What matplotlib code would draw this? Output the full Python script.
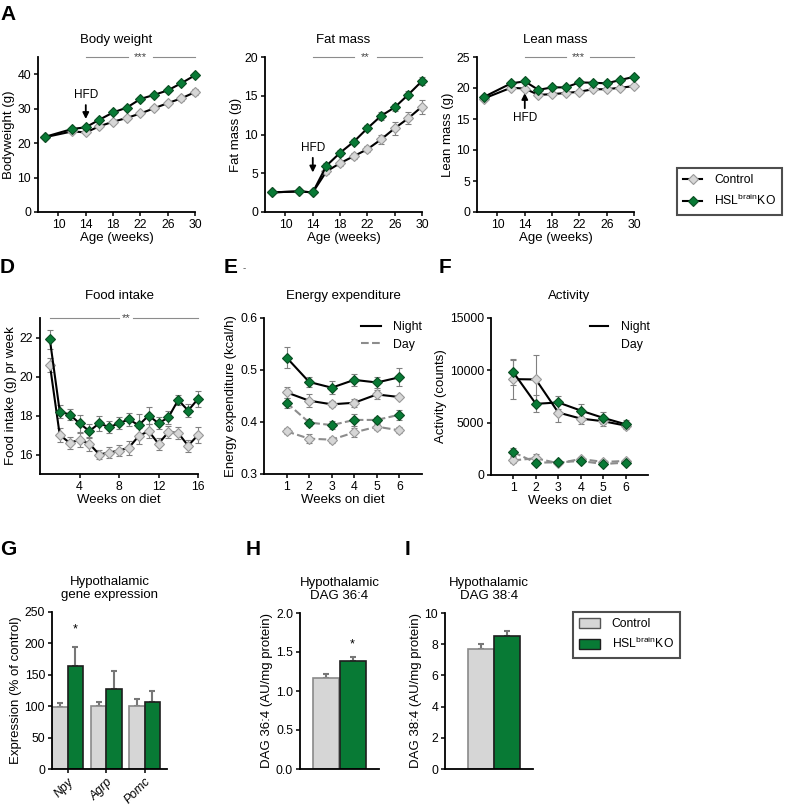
import matplotlib
matplotlib.use("Agg")
import matplotlib.pyplot as plt
from matplotlib.lines import Line2D
from matplotlib.patches import Patch
import numpy as np

plt.rcParams['font.family'] = ['Liberation Sans', 'DejaVu Sans']
plt.rcParams['font.size'] = 8.5
plt.rcParams['axes.linewidth'] = 1.3

W, H = 789, 806

# ---- data ----
age = [8, 12, 14, 16, 18, 20, 22, 24, 26, 28, 30]
bw_ctrl = [21.7, 23.4, 23.1, 24.9, 26.2, 27.3, 28.6, 30.1, 31.6, 33.0, 34.8]
bw_ko = [21.8, 24.1, 24.6, 26.8, 28.9, 30.3, 32.8, 34.0, 35.3, 37.4, 39.7]
bw_ctrl_err = [0.4, 0.4, 0.4, 0.4, 0.4, 0.5, 0.5, 0.6, 0.6, 0.7, 0.8]
bw_ko_err = [0.4, 0.4, 0.4, 0.4, 0.5, 0.5, 0.5, 0.5, 0.5, 0.5, 0.5]

fat_ctrl = [2.53, 2.66, 2.53, 5.24, 6.3, 7.2, 8.1, 9.36, 10.8, 12.1, 13.6]
fat_ko = [2.53, 2.66, 2.53, 5.97, 7.64, 9.06, 10.8, 12.4, 13.5, 15.15, 16.9]
fat_ctrl_err = [0.1, 0.1, 0.1, 0.3, 0.3, 0.4, 0.4, 0.6, 0.8, 0.8, 0.9]
fat_ko_err = [0.1, 0.1, 0.1, 0.3, 0.4, 0.3, 0.4, 0.5, 0.5, 0.5, 0.5]

lean_ctrl = [18.3, 20.05, 19.9, 18.9, 19.0, 19.2, 19.4, 19.8, 19.8, 20.05, 20.3]
lean_ko = [18.55, 20.75, 21.07, 19.7, 20.1, 20.1, 20.9, 20.85, 20.75, 21.3, 21.8]
lean_ctrl_err = [0.3, 0.3, 0.3, 0.3, 0.3, 0.3, 0.3, 0.3, 0.3, 0.3, 0.3]
lean_ko_err = [0.3, 0.3, 0.3, 0.3, 0.3, 0.3, 0.3, 0.3, 0.3, 0.3, 0.3]

weeks16 = list(range(1, 17))
food_ko = [21.9, 18.2, 18.05, 17.6, 17.2, 17.6, 17.4, 17.6, 17.8, 17.5, 18.0, 17.6, 17.9, 18.8, 18.25, 18.85]
food_ctrl = [20.6, 17.0, 16.6, 16.75, 16.55, 16.0, 16.1, 16.2, 16.35, 16.95, 17.2, 16.55, 17.15, 17.1, 16.45, 17.0]
food_ko_err = [0.5, 0.35, 0.3, 0.45, 0.35, 0.4, 0.3, 0.3, 0.35, 0.6, 0.45, 0.3, 0.35, 0.25, 0.35, 0.4]
food_ctrl_err = [0.35, 0.35, 0.3, 0.35, 0.35, 0.25, 0.3, 0.3, 0.35, 0.4, 0.35, 0.3, 0.3, 0.3, 0.3, 0.4]

weeks6 = [1, 2, 3, 4, 5, 6]
ee_night_ko = [0.524, 0.477, 0.466, 0.481, 0.476, 0.486]
ee_night_ctrl = [0.457, 0.441, 0.434, 0.437, 0.453, 0.448]
ee_day_ko = [0.437, 0.399, 0.394, 0.404, 0.404, 0.414]
ee_day_ctrl = [0.382, 0.368, 0.366, 0.380, 0.391, 0.384]
ee_night_ko_err = [0.02, 0.01, 0.012, 0.012, 0.01, 0.017]
ee_night_ctrl_err = [0.01, 0.012, 0.006, 0.008, 0.008, 0.004]
ee_day_ko_err = [0.01, 0.006, 0.008, 0.012, 0.006, 0.01]
ee_day_ctrl_err = [0.006, 0.008, 0.006, 0.008, 0.006, 0.006]

act_night_ko = [9800, 6800, 6930, 6160, 5460, 4850]
act_night_ctrl = [9160, 9130, 5970, 5390, 5140, 4720]
act_day_ko = [2170, 1180, 1210, 1340, 1050, 1180]
act_day_ctrl = [1400, 1600, 1120, 1530, 1250, 1340]
act_night_ko_err = [1200, 800, 600, 600, 600, 400]
act_night_ctrl_err = [1900, 2300, 900, 500, 500, 300]
act_day_ko_err = [400, 150, 150, 150, 150, 150]
act_day_ctrl_err = [300, 450, 150, 150, 150, 150]

genes = ['Npy', 'Agrp', 'Pomc']
gene_ctrl = [99, 101, 101]
gene_ko = [164, 128, 107]
gene_ctrl_err = [5.5, 6, 11]
gene_ko_err = [30, 28, 17]

dag364 = [1.162, 1.387]
dag364_err = [0.06, 0.05]
dag384 = [7.70, 8.51]
dag384_err = [0.34, 0.36]

# ---- styles ----
GREEN = '#087a35'
GREEN_EDGE = '#0a4d22'
GREY_FILL = '#d6d6d6'
GREY_EDGE = '#999999'
DASH_C = '#8c8c8c'
ctrl_style = dict(marker='D', ms=5, mfc=GREY_FILL, mec=GREY_EDGE, mew=0.8)
ko_style = dict(marker='D', ms=5, mfc=GREEN, mec=GREEN_EDGE, mew=0.8)

fig = plt.figure(figsize=(W / 100, H / 100), dpi=100)


def add_ax(l, t, r, b):
    ax = fig.add_axes([l / W, 1 - b / H, (r - l) / W, (b - t) / H])
    for s in ['top', 'right']:
        ax.spines[s].set_visible(False)
    ax.tick_params(direction='out', length=3, width=1.1, labelsize=8.8, pad=2)
    return ax


def series(ax, x, y, err, style, ls='-', color='k'):
    ax.errorbar(x, y, yerr=err, color=color, ls=ls, lw=1.5, ecolor='#808080',
                elinewidth=0.8, capsize=2, capthick=0.8, clip_on=False, zorder=3, **style)


def bracket(ax, x0, x1, y, g0, g1, stars, xs):
    ax.plot([x0, g0], [y, y], color='#8c8c8c', lw=0.8, clip_on=False)
    ax.plot([g1, x1], [y, y], color='#8c8c8c', lw=0.8, clip_on=False)
    ax.text(xs, y, stars, ha='center', va='center', fontsize=8, color='#444444')


arrow = dict(arrowstyle='-|>', lw=1.3, color='k', mutation_scale=9, shrinkA=1, shrinkB=0)

# ---- A: body weight ----
ax = add_ax(38, 57, 195, 212)
series(ax, age, bw_ctrl, bw_ctrl_err, ctrl_style)
series(ax, age, bw_ko, bw_ko_err, ko_style)
ax.set_xlim(7, 30)
ax.set_ylim(0, 45)
ax.set_xticks([10, 14, 18, 22, 26, 30])
ax.set_yticks([0, 10, 20, 30, 40])
ax.set_xlabel('Age (weeks)', fontsize=9.5, labelpad=1)
ax.set_ylabel('Bodyweight (g)', fontsize=9.5, labelpad=2)
ax.set_title('Body weight', fontsize=9.5, pad=10)
bracket(ax, 14, 30, 45, 20.2, 23.9, '***', 22)
ax.annotate('HFD', xy=(14, 27), xytext=(14, 34), ha='center', va='center', fontsize=8.5,
            arrowprops=arrow)

# ---- A: fat mass ----
ax = add_ax(265, 57, 422, 212)
series(ax, age, fat_ctrl, fat_ctrl_err, ctrl_style)
series(ax, age, fat_ko, fat_ko_err, ko_style)
ax.set_xlim(7, 30)
ax.set_ylim(0, 20)
ax.set_xticks([10, 14, 18, 22, 26, 30])
ax.set_yticks([0, 5, 10, 15, 20])
ax.set_xlabel('Age (weeks)', fontsize=9.5, labelpad=1)
ax.set_ylabel('Fat mass (g)', fontsize=9.5, labelpad=2)
ax.set_title('Fat mass', fontsize=9.5, pad=10)
bracket(ax, 14, 30, 20, 20.0, 23.4, '**', 21.6)
ax.annotate('HFD', xy=(14, 5.1), xytext=(14, 8.3), ha='center', va='center', fontsize=8.5,
            arrowprops=arrow)

# ---- A: lean mass ----
ax = add_ax(477, 57, 634, 212)
series(ax, age, lean_ctrl, lean_ctrl_err, ctrl_style)
series(ax, age, lean_ko, lean_ko_err, ko_style)
ax.set_xlim(7, 30)
ax.set_ylim(0, 25)
ax.set_xticks([10, 14, 18, 22, 26, 30])
ax.set_yticks([0, 5, 10, 15, 20, 25])
ax.set_xlabel('Age (weeks)', fontsize=9.5, labelpad=1)
ax.set_ylabel('Lean mass (g)', fontsize=9.5, labelpad=2)
ax.set_title('Lean mass', fontsize=9.5, pad=10)
bracket(ax, 14, 30, 25, 20.0, 23.6, '***', 21.8)
ax.annotate('HFD', xy=(14, 19.2), xytext=(14, 15.1), ha='center', va='center', fontsize=8.5,
            arrowprops=arrow)

ko_label = r'HSL$^{\mathregular{brain}}$KO'
leg_handles = [Line2D([], [], color='k', lw=1.5, **ctrl_style),
               Line2D([], [], color='k', lw=1.5, **ko_style)]
leg = fig.legend(leg_handles, ['Control', ko_label],
                 loc='upper left', bbox_to_anchor=(677 / W, 1 - 168 / H), borderaxespad=0,
                 fontsize=8.7, fancybox=False, edgecolor='#222222', handlelength=1.6,
                 borderpad=0.5, labelspacing=0.6, handletextpad=1.0)
leg.get_frame().set_linewidth(1.5)

# ---- D: food intake ----
ax = add_ax(40, 318, 198, 474)
series(ax, weeks16, food_ctrl, food_ctrl_err, ctrl_style)
series(ax, weeks16, food_ko, food_ko_err, ko_style)
ax.set_xlim(0, 16)
ax.set_ylim(15, 23)
ax.set_xticks([4, 8, 12, 16])
ax.set_yticks([16, 18, 20, 22])
ax.set_xlabel('Weeks on diet', fontsize=9.5, labelpad=1)
ax.set_ylabel('Food intake (g) pr week', fontsize=9.5, labelpad=2)
ax.set_title('Food intake', fontsize=9.5, pad=14)
bracket(ax, 1, 16, 23, 8.0, 9.4, '**', 8.7)

# ---- E: energy expenditure ----
ax = add_ax(264, 318, 422, 474)
series(ax, weeks6, ee_day_ctrl, ee_day_ctrl_err, ctrl_style, ls='--', color=DASH_C)
series(ax, weeks6, ee_day_ko, ee_day_ko_err, ko_style, ls='--', color=DASH_C)
series(ax, weeks6, ee_night_ctrl, ee_night_ctrl_err, ctrl_style)
series(ax, weeks6, ee_night_ko, ee_night_ko_err, ko_style)
ax.set_xlim(0, 7)
ax.set_ylim(0.3, 0.6)
ax.set_xticks(weeks6)
ax.set_yticks([0.3, 0.4, 0.5, 0.6])
ax.set_xlabel('Weeks on diet', fontsize=9.5, labelpad=1)
ax.set_ylabel('Energy expenditure (kcal/h)', fontsize=9.5, labelpad=2)
ax.set_title('Energy expenditure', fontsize=9.5, pad=14)
ax.legend([Line2D([], [], color='k', lw=1.5), Line2D([], [], color=DASH_C, lw=1.5, ls='--')],
          ['Night', 'Day'], loc='upper right', bbox_to_anchor=(1.07, 1.05), frameon=False,
          fontsize=8.8, handlelength=1.6, labelspacing=0.45, handletextpad=1.0)

# ---- F: activity ----
ax = add_ax(491, 318, 648, 475)
series(ax, weeks6, act_day_ctrl, act_day_ctrl_err, ctrl_style, ls='--', color=DASH_C)
series(ax, weeks6, act_day_ko, act_day_ko_err, ko_style, ls='--', color=DASH_C)
series(ax, weeks6, act_night_ctrl, act_night_ctrl_err, ctrl_style)
series(ax, weeks6, act_night_ko, act_night_ko_err, ko_style)
ax.set_xlim(0, 7)
ax.set_ylim(0, 15000)
ax.set_xticks(weeks6)
ax.set_yticks([0, 5000, 10000, 15000])
ax.set_xlabel('Weeks on diet', fontsize=9.5, labelpad=1)
ax.set_ylabel('Activity (counts)', fontsize=9.5, labelpad=2)
ax.set_title('Activity', fontsize=9.5, pad=14)
ax.legend([Line2D([], [], color='k', lw=1.5), Line2D([], [], color='none', lw=1.5)],
          ['Night', 'Day'], loc='upper right', bbox_to_anchor=(1.08, 1.05), frameon=False,
          fontsize=8.8, handlelength=1.5, labelspacing=0.45, handletextpad=1.0)


# ---- bars ----
def bar_pair(ax, x, vals, errs, width):
    cols = [GREY_FILL, GREEN]
    edges = ['#8a8a8a', '#1e1e1e']
    for k in range(2):
        ax.bar(x[k], vals[k], width=width, color=cols[k], edgecolor=edges[k], lw=1.2, zorder=2)
        ax.errorbar(x[k], vals[k], yerr=[[0], [errs[k]]], fmt='none', ecolor='#777777',
                    elinewidth=1.5, capsize=2.5, capthick=1.5, zorder=1)


# G
ax = add_ax(52, 612, 167, 769)
gx = np.arange(len(genes))
ax.bar(gx - 0.2, gene_ctrl, width=0.4, color=GREY_FILL, edgecolor='#8a8a8a', lw=1.2, zorder=2)
ax.bar(gx + 0.2, gene_ko, width=0.4, color=GREEN, edgecolor='#1e1e1e', lw=1.2, zorder=2)
ax.errorbar(gx - 0.2, gene_ctrl, yerr=[np.zeros(3), gene_ctrl_err], fmt='none', ecolor='#777777',
            elinewidth=1.5, capsize=2.5, capthick=1.5, zorder=1)
ax.errorbar(gx + 0.2, gene_ko, yerr=[np.zeros(3), gene_ko_err], fmt='none', ecolor='#777777',
            elinewidth=1.5, capsize=2.5, capthick=1.5, zorder=1)
ax.text(0.2, 222, '*', ha='center', va='center', fontsize=9)
ax.set_xlim(-0.41, 2.58)
ax.set_ylim(0, 250)
ax.set_yticks([0, 50, 100, 150, 200, 250])
ax.set_xticks(gx)
ax.set_xticklabels(genes, rotation=45, ha='right', rotation_mode='anchor', style='italic')
ax.set_ylabel('Expression (% of control)', fontsize=9.5, labelpad=2)
ax.set_title('Hypothalamic\ngene expression', fontsize=9.5, pad=10, linespacing=1.1)

# H
ax = add_ax(300, 613, 379, 769)
bar_pair(ax, [0, 1], dag364, dag364_err, 1.0)
ax.text(1, 1.6, '*', ha='center', va='center', fontsize=9)
ax.set_xlim(-1, 2)
ax.set_ylim(0, 2.0)
ax.set_yticks([0, 0.5, 1.0, 1.5, 2.0])
ax.set_yticklabels(['0.0', '0.5', '1.0', '1.5', '2.0'])
ax.set_xticks([])
ax.set_ylabel('DAG 36:4 (AU/mg protein)', fontsize=9.5, labelpad=2)
ax.set_title('Hypothalamic\nDAG 36:4', fontsize=9.5, pad=10, linespacing=1.1)

# I
ax = add_ax(445, 613, 533, 769)
bar_pair(ax, [0, 1], dag384, dag384_err, 1.0)
ax.set_xlim(-1.36, 2)
ax.set_ylim(0, 10)
ax.set_yticks([0, 2, 4, 6, 8, 10])
ax.set_xticks([])
ax.set_ylabel('DAG 38:4 (AU/mg protein)', fontsize=9.5, labelpad=2)
ax.set_title('Hypothalamic\nDAG 38:4', fontsize=9.5, pad=10, linespacing=1.1)

bar_handles = [Patch(facecolor=GREY_FILL, edgecolor='#555555', lw=1),
               Patch(facecolor=GREEN, edgecolor='#1e1e1e', lw=1)]
leg2 = fig.legend(bar_handles, ['Control', ko_label],
                  loc='upper left', bbox_to_anchor=(573 / W, 1 - 612 / H), borderaxespad=0,
                  fontsize=8.7, fancybox=False, edgecolor='#222222', handlelength=1.7,
                  handleheight=0.9, borderpad=0.5, labelspacing=0.5, handletextpad=1.0)
leg2.get_frame().set_linewidth(1.5)

# panel letters
for letter, x, y in [('A', 0, 5), ('D', 0, 258), ('E', 224, 258), ('F', 439, 258),
                     ('G', 0, 540), ('H', 246, 540), ('I', 405, 540)]:
    fig.text(x / W, 1 - y / H, letter, fontsize=15, fontweight='bold', va='top', ha='left')
fig.text(243 / W, 1 - 268 / H, '-', fontsize=7, color='#555555', va='center', ha='left')

fig.savefig('out.png', dpi=100)
